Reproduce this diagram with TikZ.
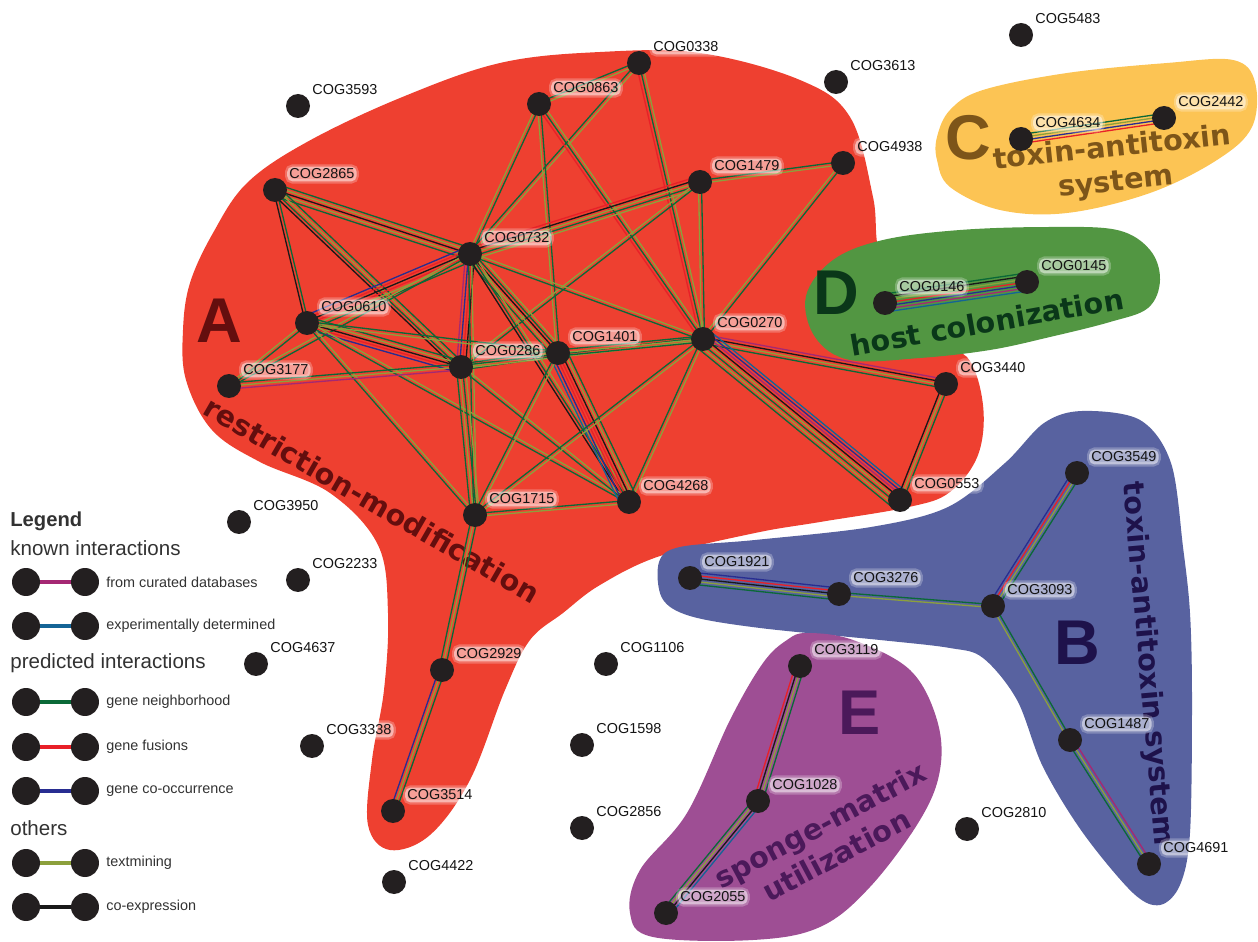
\documentclass[tikz,border=0pt]{standalone}
\usepackage{fontspec}
\setmainfont{Liberation Sans}
\newfontfamily\djv{DejaVu Sans}
\usetikzlibrary{calc}
\pgfdeclarelayer{regions}
\pgfdeclarelayer{edges}
\pgfsetlayers{regions,edges,main}
\definecolor{nodek}{RGB}{35,31,32}
\definecolor{labk}{RGB}{20,20,20}
\definecolor{ecur}{RGB}{165,40,115}
\definecolor{eexp}{RGB}{20,100,150}
\definecolor{enei}{RGB}{10,105,55}
\definecolor{efus}{RGB}{232,32,40}
\definecolor{ecoo}{RGB}{40,45,145}
\definecolor{etxt}{RGB}{140,160,60}
\definecolor{ecex}{RGB}{25,25,25}
\definecolor{regA}{RGB}{238,64,48}
\definecolor{regB}{RGB}{88,98,160}
\definecolor{regC}{RGB}{252,196,84}
\definecolor{regD}{RGB}{82,150,66}
\definecolor{regE}{RGB}{158,78,148}
\definecolor{txA}{RGB}{100,14,14}
\definecolor{txB}{RGB}{30,18,75}
\definecolor{txC}{RGB}{125,85,25}
\definecolor{txD}{RGB}{10,55,25}
\definecolor{txE}{RGB}{75,25,90}
\definecolor{legk}{RGB}{50,50,50}
\tikzset{
  dot/.style={circle, fill=nodek, inner sep=0pt, minimum size=0.48cm},
  ldot/.style={circle, fill=nodek, inner sep=0pt, minimum size=0.56cm},
  lab/.style={anchor=west, font=\fontsize{8.2}{9.5}\selectfont, text=labk, inner sep=1.3pt,
    fill=white, fill opacity=0.5, draw=white, draw opacity=0.25, line width=2.5pt,
    text opacity=1, rounded corners=3pt},
  eline/.style={line width=0.75pt},
  lline/.style={line width=2.4pt},
  bigletter/.style={font=\bfseries\fontsize{36}{36}\selectfont, inner sep=0pt},
  phrase/.style={font=\djv\bfseries\fontsize{16.3}{19.5}\selectfont, align=center, inner sep=0pt},
  legtxt/.style={anchor=west, font=\fontsize{8.2}{9.5}\selectfont, text=legk, inner sep=0pt},
  leghead/.style={anchor=west, font=\fontsize{11.7}{13}\selectfont, text=legk, inner sep=0pt},
}
\newcommand\cog[3]{%
  \node[dot] (c#1) at (#2,#3) {};
  \node[lab] (l#1) at ($(c#1)+(10,-16)$) {COG#1};}
\newcommand\medge[3]{%
  \begin{pgfonlayer}{edges}%
  \foreach \col [count=\i] in {#3} {\xdef\nlines{\i}}%
  \foreach \col [count=\i] in {#3} {%
    \pgfmathsetmacro\eoff{(\i-(\nlines+1)/2)*1.7}%
    \draw[eline,\col] ($(#1)!\eoff pt!90:(#2)$) -- ($(#2)!\eoff pt!-90:(#1)$);
  }%
  \end{pgfonlayer}}
\begin{document}
\begin{tikzpicture}[x=0.02cm, y=-0.02cm]
\useasboundingbox (0,0) rectangle (1258,942);
% ---------------- regions
\begin{pgfonlayer}{regions}
\fill[regA] plot[smooth cycle, tension=0.6] coordinates {
 (600,52) (700,53) (800,80) (850,117) (873,197) (882,262) (930,345) (967,357) (983,405)
 (978,455) (950,492) (909,507) (820,522) (755,533) (660,556) (600,585) (563,613) (530,640)
 (505,690) (470,780) (430,835) (390,850) (368,825) (372,760) (384,690) (388,613) (378,545)
 (330,493) (260,462) (212,430) (186,380) (183,330) (190,283) (213,233) (247,183) (307,142)
 (400,98) (500,63)};
\fill[regD] plot[smooth cycle, tension=0.6] coordinates {
 (806,296) (833,260) (883,240) (960,230) (1050,227) (1117,230) (1150,250) (1160,280)
 (1148,308) (1110,322) (1050,337) (990,350) (920,358) (850,360) (815,337)};
\fill[regC] plot[smooth cycle, tension=0.6] coordinates {
 (937,137) (950,110) (983,90) (1067,73) (1167,63) (1233,60) (1255,82) (1252,127)
 (1217,160) (1150,193) (1067,213) (1000,210) (950,187) (937,160)};
\fill[regB] plot[smooth cycle, tension=0.55] coordinates {
 (659,562) (680,547) (755,540) (871,527) (948,507) (1005,463) (1044,423) (1082,411)
 (1140,420) (1171,463) (1183,547) (1190,613) (1192,700) (1190,833) (1180,885) (1160,905)
 (1133,893) (1083,833) (1043,767) (1017,700) (983,658) (950,648) (880,640) (760,628)
 (690,616) (662,598)};
\fill[regE] plot[smooth cycle, tension=0.6] coordinates {
 (807,633) (853,640) (910,670) (937,720) (940,770) (920,820) (870,887) (820,927)
 (753,940) (653,937) (630,913) (640,870) (687,813) (730,720) (763,663) (787,640)};
% region texts
\node[bigletter, text=txA] (letA) at (219,321) {A};
\node[phrase, text=txA, rotate=-30] (phA) at (372,500) {restriction-modification};
\node[bigletter, text=txC] (letC) at (968,138) {C};
\node[phrase, text=txC, rotate=6] (phC) at (1114,166) {toxin-antitoxin\\system};
\node[bigletter, text=txD] (letD) at (836,293) {D};
\node[phrase, text=txD, rotate=10] (phD) at (987,322) {host colonization};
\node[bigletter, text=txB] (letB) at (1077,643) {B};
\node[phrase, text=txB, rotate=-85] (phB) at (1147,664) {toxin-antitoxin system};
\node[bigletter, text=txE] (letE) at (860,713) {E};
\node[phrase, text=txE, rotate=28] (phE) at (828,840) {sponge-matrix\\utilization};
\end{pgfonlayer}
% ---------------- nodes
\cog{5483}{1021}{35}
\cog{0338}{639}{63}
\cog{3613}{836}{82}
\cog{0863}{539}{104}
\cog{3593}{298}{106}
\cog{4634}{1021}{139}
\cog{2442}{1164}{118}
\cog{4938}{843}{163}
\cog{1479}{700}{182}
\cog{2865}{275}{190}
\cog{0732}{470}{254}
\cog{0146}{885}{303}
\cog{0145}{1027}{282}
\cog{0610}{307}{323}
\cog{0270}{703}{339}
\cog{1401}{558}{353}
\cog{0286}{461}{367}
\cog{3177}{229}{386}
\cog{3440}{946}{384}
\cog{0553}{900}{500}
\cog{3549}{1077}{473}
\cog{1715}{475}{515}
\cog{4268}{629}{502}
\cog{3950}{239}{522}
\cog{2233}{298}{580}
\cog{1921}{690}{578}
\cog{3276}{839}{594}
\cog{3093}{993}{606}
\cog{4637}{256}{664}
\cog{1106}{606}{664}
\cog{2929}{442}{670}
\cog{3119}{800}{666}
\cog{3338}{312}{746}
\cog{1598}{582}{745}
\cog{1487}{1070}{740}
\cog{1028}{758}{801}
\cog{3514}{393}{811}
\cog{2856}{582}{828}
\cog{2810}{967}{829}
\cog{4691}{1149}{864}
\cog{4422}{394}{882}
\cog{2055}{666}{913}
% ---------------- edges: cluster A
\medge{c0338}{c0863}{enei,etxt}
\medge{c0338}{c0732}{enei,etxt}
\medge{c0338}{c0270}{efus,enei,etxt}
\medge{c0863}{c0732}{etxt,enei}
\medge{c0863}{c1401}{etxt,enei}
\medge{c0863}{c0270}{efus,enei,etxt}
\medge{c1479}{c4938}{etxt,enei}
\medge{c1479}{c0732}{efus,ecex,etxt,enei,etxt}
\medge{c1479}{c0270}{etxt,enei}
\medge{c1479}{c0286}{etxt,enei}
\medge{c4938}{c0270}{etxt,enei}
\medge{c2865}{c0732}{enei,etxt,ecex,etxt,enei}
\medge{c2865}{c0610}{ecex,enei}
\medge{c2865}{c0286}{ecex,enei,etxt,enei}
\medge{c0732}{c0610}{ecoo,efus,ecex,efus,etxt,enei}
\medge{c0732}{c0286}{ecur,ecoo,efus,ecex}
\medge{c0732}{c1401}{enei,etxt,ecex,enei,etxt}
\medge{c0732}{c4268}{ecex,enei,etxt}
\medge{c0732}{c1715}{enei,etxt}
\medge{c0732}{c0270}{enei,etxt}
\medge{c0732}{c3177}{etxt,enei}
\medge{c0610}{c0286}{ecoo,efus,ecex,etxt,enei}
\medge{c0610}{c1401}{etxt,enei}
\medge{c0610}{c1715}{enei,etxt}
\medge{c0610}{c4268}{enei,etxt}
\medge{c0610}{c3177}{etxt,enei}
\medge{c0286}{c3177}{enei,etxt,ecur}
\medge{c0286}{c1401}{enei,etxt,enei}
\medge{c0286}{c0270}{etxt,enei}
\medge{c0286}{c1715}{enei,etxt,enei,etxt}
\medge{c0286}{c4268}{enei,etxt}
\medge{c1401}{c0270}{enei,etxt,enei}
\medge{c1401}{c4268}{eexp,ecoo,efus,efus,ecex,etxt,enei}
\medge{c1401}{c1715}{enei,etxt}
\medge{c0270}{c1715}{enei,etxt}
\medge{c0270}{c4268}{enei,etxt}
\medge{c0270}{c3440}{enei,etxt,ecex,ecur}
\medge{c0270}{c0553}{enei,etxt,enei,etxt,ecex,ecur,ecoo,eexp}
\medge{c3440}{c0553}{ecex,etxt,enei}
\medge{c1715}{c4268}{etxt,enei}
\medge{c1715}{c2929}{enei,etxt,enei}
\medge{c2929}{c3514}{ecoo,etxt,enei}
% cluster C, D
\medge{c4634}{c2442}{efus,ecoo,etxt,enei}
\medge{c0146}{c0145}{eexp,ecur,ecoo,efus,etxt,ecex,enei}
% cluster B
\medge{c1921}{c3276}{enei,etxt,ecex,efus,ecoo}
\medge{c3276}{c3093}{etxt,enei}
\medge{c3093}{c3549}{enei,etxt,efus,ecoo}
\medge{c3093}{c1487}{etxt,enei}
\medge{c1487}{c4691}{enei,etxt,ecur}
% cluster E
\medge{c3119}{c1028}{efus,ecex,etxt,enei}
\medge{c1028}{c2055}{enei,etxt,ecex,eexp}
% ---------------- legend
\node[leghead, font=\bfseries\fontsize{11.5}{13}\selectfont] (legT) at (10,521) {Legend};
\node[leghead] (legK) at (10,548) {known interactions};
\node[leghead] (legP) at (10,663) {predicted interactions};
\node[leghead] (legO) at (10,828) {others};
\foreach \yy/\cc/\ltext [count=\k] in {
  582/ecur/from curated databases,
  626/eexp/experimentally determined,
  702/enei/gene neighborhood,
  747/efus/gene fusions,
  791/ecoo/gene co-occurrence,
  863/etxt/textmining,
  907/ecex/co-expression} {
  \node[ldot] (la\k) at (26,\yy) {};
  \node[ldot] (lb\k) at (85,\yy) {};
  \begin{pgfonlayer}{edges}\draw[lline,\cc] (la\k) -- (lb\k);\end{pgfonlayer}
  \node[legtxt] (lt\k) at (106,\yy) {\ltext};
}
\end{tikzpicture}
\end{document}
